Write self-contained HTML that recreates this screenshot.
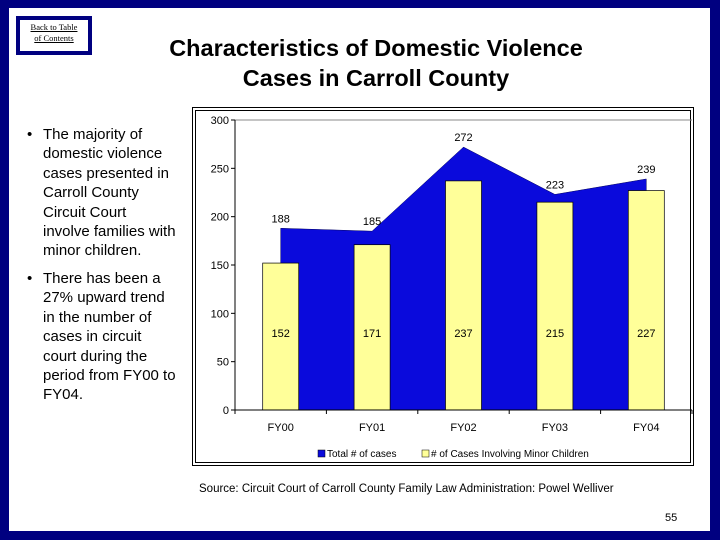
<!DOCTYPE html>
<html><head><meta charset="utf-8"><style>
body{margin:0;width:720px;height:540px;overflow:hidden;background:#000080;font-family:"Liberation Sans",sans-serif;}
#slide{position:absolute;left:9px;top:8px;width:701px;height:523px;background:#fff;}
.b{position:absolute;font-size:15px;line-height:19.4px;color:#000;white-space:nowrap;}
</style></head><body>
<div id="slide">
<div style="position:absolute;left:7px;top:8px;width:68px;height:29px;border:4px solid #000080;font-family:'Liberation Serif',serif;font-size:8.5px;text-align:center;line-height:11px;padding-top:2px;"><u>Back to Table<br>of Contents</u></div>
<div style="position:absolute;left:97px;top:25px;width:540px;text-align:center;font-weight:bold;font-size:23.5px;line-height:30px;">Characteristics of Domestic Violence<br>Cases in Carroll County</div>
<div class="b" style="left:18px;top:117px;">•</div>
<div class="b" style="left:34px;top:117px;">The majority of<br>domestic violence<br>cases presented in<br>Carroll County<br>Circuit Court<br>involve families with<br>minor children.</div>
<div class="b" style="left:18px;top:261px;">•</div>
<div class="b" style="left:34px;top:261px;">There has been a<br>27% upward trend<br>in the number of<br>cases in circuit<br>court during the<br>period from FY00 to<br>FY04.</div>
<div style="position:absolute;left:190px;top:475px;font-size:11.5px;">Source: Circuit Court of Carroll County Family Law Administration: Powel Welliver</div>
<div style="position:absolute;left:656px;top:504px;font-size:11px;">55</div>
</div>
<svg id="chart" width="720" height="540" style="position:absolute;left:0;top:0">
<rect x="192.5" y="107.5" width="501" height="358" fill="none" stroke="#000" stroke-width="1"/>
<rect x="195.5" y="110.5" width="495" height="352" fill="none" stroke="#000" stroke-width="1"/>
<g id="g"></g>
</svg>
<script>
const categories=["FY00","FY01","FY02","FY03","FY04"];
const totalCases=[188,185,272,223,239];
const minorCases=[152,171,237,215,227];
const yTicks=[0,50,100,150,200,250,300];
const NS="http://www.w3.org/2000/svg";
const g=document.getElementById('g');
const L=235,R=692,T=120,B=410,maxY=300;
const bw=(R-L)/categories.length;
const x=i=>L+bw*(i+0.5);
const y=v=>B-(B-T)*v/maxY;
function mk(t,a,txt){const e=document.createElementNS(NS,t);for(const k in a)e.setAttribute(k,a[k]);if(txt!==undefined)e.textContent=txt;g.appendChild(e);return e;}
mk('line',{x1:L,y1:T,x2:R,y2:T,stroke:'#888','stroke-width':1});
let pts=categories.map((c,i)=>x(i)+','+y(totalCases[i])).join(' ');
pts+=' '+x(categories.length-1)+','+B+' '+x(0)+','+B;
const area=mk('polygon',{points:pts,fill:'#0A0ADC',stroke:'#000060','stroke-width':0.5});


categories.forEach((c,i)=>{
 const r=mk('rect',{x:x(i)-18,y:y(minorCases[i]),width:36,height:B-y(minorCases[i]),fill:'#FFFF99',stroke:'#000','stroke-width':0.7});
 
 
 const t=mk('text',{x:x(i),y:y(totalCases[i])-6,'text-anchor':'middle','font-size':11,fill:'#000'},totalCases[i]);
 
 
 const t2=mk('text',{x:x(i),y:337,'text-anchor':'middle','font-size':11,fill:'#000'},minorCases[i]);
 
 
 const t3=mk('text',{x:x(i),y:431,'text-anchor':'middle','font-size':11,fill:'#000'},c);
 
 
});
mk('line',{x1:L,y1:T,x2:L,y2:B,stroke:'#000'});
mk('line',{x1:L,y1:B,x2:R,y2:B,stroke:'#000'});
for(let i=0;i<=categories.length;i++)mk('line',{x1:L+bw*i,y1:B,x2:L+bw*i,y2:B+4,stroke:'#000'});
yTicks.forEach(v=>{
 mk('line',{x1:L-4,y1:y(v),x2:L,y2:y(v),stroke:'#000'});
 const t=mk('text',{x:L-6,y:y(v)+4,'text-anchor':'end','font-size':11,fill:'#000'},v);
 
 
});
const l1=mk('rect',{x:318,y:450,width:7,height:7,fill:'#0A0ADC',stroke:'#000','stroke-width':0.5});


const lt1=mk('text',{x:327,y:457,'font-size':10,fill:'#000'},'Total # of cases');


const l2=mk('rect',{x:422,y:450,width:7,height:7,fill:'#FFFF99',stroke:'#000','stroke-width':0.5});


const lt2=mk('text',{x:431,y:457,'font-size':10,fill:'#000'},'# of Cases Involving Minor Children');


</script>
</body></html>
